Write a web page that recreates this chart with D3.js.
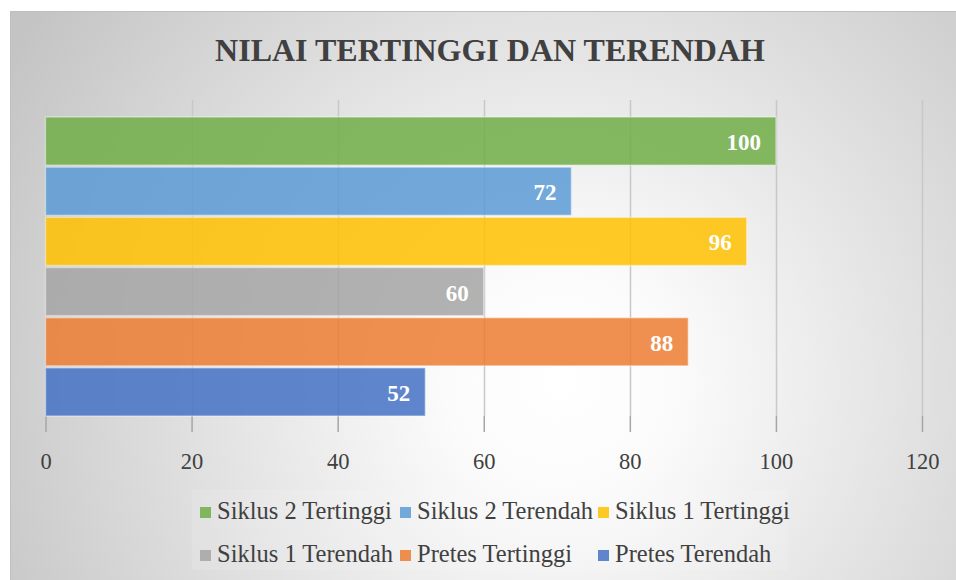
<!DOCTYPE html>
<html>
<head>
<meta charset="utf-8">
<script src="https://cdn.jsdelivr.net/npm/d3@7"></script>
<style>
  body { margin: 0; background: #fff; }
  svg { display: block; }
</style>
</head>
<body>
<div id="chart"></div>
<script>
const seriesNames = ["Siklus 2 Tertinggi", "Siklus 2 Terendah", "Siklus 1 Tertinggi",
                     "Siklus 1 Terendah", "Pretes Tertinggi", "Pretes Terendah"];
const seriesValues = [100, 72, 96, 60, 88, 52];
const seriesColors = ["#70AD47", "#5B9BD5", "#FFC000", "#A5A5A5", "#ED7D31", "#4472C4"];
const xTicks = [0, 20, 40, 60, 80, 100, 120];
const titleText = "NILAI TERTINGGI DAN TERENDAH";

const width = 956, height = 580;
const serif = "'Liberation Serif', 'Times New Roman', serif";

const svg = d3.select("#chart").append("svg")
    .attr("width", width)
    .attr("height", height);

// background gradient
const defs = svg.append("defs");
const grad = defs.append("radialGradient")
    .attr("id", "bg")
    .attr("gradientUnits", "userSpaceOnUse")
    .attr("cx", 560).attr("cy", 380).attr("r", 640);
grad.append("stop").attr("offset", "0%").attr("stop-color", "#ffffff");
grad.append("stop").attr("offset", "18%").attr("stop-color", "#fbfbfb");
grad.append("stop").attr("offset", "100%").attr("stop-color", "#c4c4c4");

svg.append("rect")
    .attr("x", 10.5).attr("y", 11.5)
    .attr("width", 960).attr("height", 600)
    .attr("fill", "url(#bg)")
    .attr("stroke", "#bfbfbf");

svg.append("text")
    .attr("x", 490).attr("y", 61)
    .attr("text-anchor", "middle")
    .attr("font-family", serif)
    .attr("font-weight", "bold")
    .attr("font-size", 32)
    .attr("fill", "#404040")
    .text(titleText);

const xScale = d3.scaleLinear().domain([0, 120]).range([45.5, 922]);
const yScale = d3.scaleBand().domain(seriesNames).range([117, 416]).paddingInner(0.04);

// gridlines
svg.append("g").selectAll("line")
    .data(xTicks)
    .join("line")
    .attr("x1", d => Math.round(xScale(d)) + 0.5)
    .attr("x2", d => Math.round(xScale(d)) + 0.5)
    .attr("y1", 100).attr("y2", 416)
    .attr("stroke", "#c8c8c8")
    .attr("stroke-width", 1.5);

// axis
const xAxis = d3.axisBottom(xScale)
    .tickValues(xTicks)
    .tickSize(16)
    .tickPadding(21);
const axisG = svg.append("g")
    .attr("transform", "translate(0,416)")
    .call(xAxis);
axisG.select(".domain").remove();
axisG.selectAll(".tick line").attr("stroke", "#a6a6a6").attr("stroke-width", 1.5);
axisG.selectAll(".tick text")
    .attr("font-family", serif)
    .attr("font-size", 22.5)
    .attr("fill", "#404040");

// bars
svg.append("g").selectAll("rect")
    .data(seriesNames)
    .join("rect")
    .attr("x", xScale(0))
    .attr("y", d => yScale(d))
    .attr("width", (d, i) => xScale(seriesValues[i]) - xScale(0))
    .attr("height", yScale.bandwidth())
    .attr("fill", (d, i) => seriesColors[i])
    .attr("fill-opacity", 0.85)
    .attr("stroke", "#ffffff")
    .attr("stroke-opacity", 0.4)
    .attr("stroke-width", 1.5);

// data labels
svg.append("g").selectAll("text")
    .data(seriesNames)
    .join("text")
    .attr("x", (d, i) => xScale(seriesValues[i]) - 15)
    .attr("y", d => yScale(d) + yScale.bandwidth() / 2 + 9)
    .attr("text-anchor", "end")
    .attr("font-family", serif)
    .attr("font-weight", "bold")
    .attr("font-size", 23)
    .attr("fill", "#ffffff")
    .text((d, i) => seriesValues[i]);

// legend
const legendPos = [[200, 507], [400, 507], [598, 507], [200, 550], [400, 550], [598, 550]];
svg.append("rect")
    .attr("x", 192).attr("y", 490)
    .attr("width", 596).attr("height", 80)
    .attr("fill", "#ffffff").attr("fill-opacity", 0.12);
const legend = svg.append("g").selectAll("g")
    .data(seriesNames)
    .join("g")
    .attr("transform", (d, i) => `translate(${legendPos[i][0]},${legendPos[i][1]})`);
legend.append("rect")
    .attr("width", 11).attr("height", 11)
    .attr("fill", (d, i) => seriesColors[i])
    .attr("fill-opacity", 0.85);
legend.append("text")
    .attr("x", 17).attr("y", 11.5)
    .attr("font-family", serif)
    .attr("font-size", 24.5)
    .attr("fill", "#404040")
    .text(d => d);
</script>
</body>
</html>
